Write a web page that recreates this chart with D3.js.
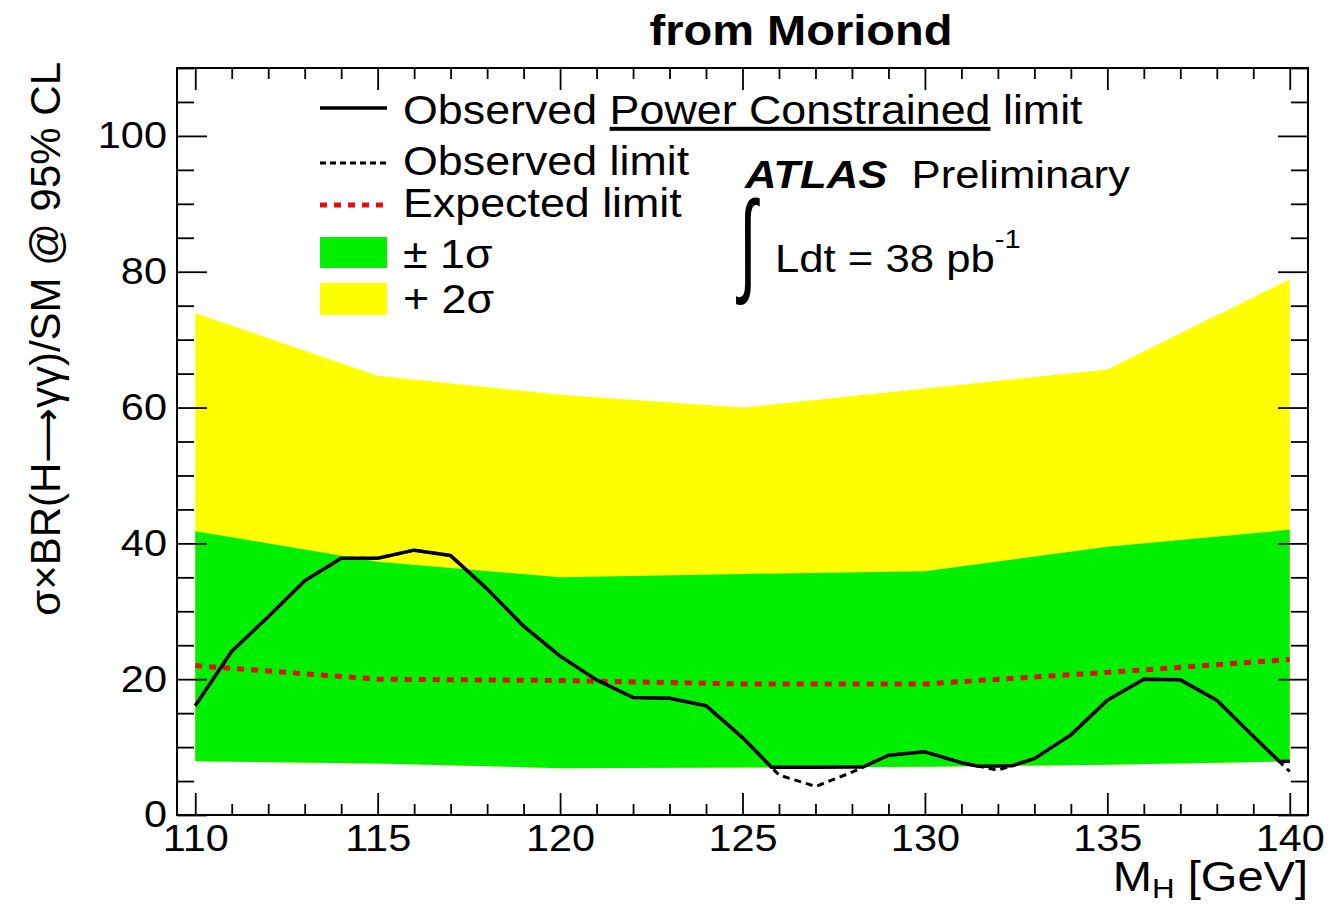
<!DOCTYPE html>
<html>
<head>
<meta charset="utf-8">
<script src="https://cdn.jsdelivr.net/npm/d3@7/dist/d3.min.js"></script>
<style>
body { margin: 0; background: #fff; }
text { font-family: "Liberation Sans", Arial, Helvetica, sans-serif; fill: #000; }
</style>
</head>
<body>
<svg width="1340" height="904"></svg>
<script>
// mass points of the observed scan (GeV)
var masses = [110, 111, 112, 113, 114, 115, 116, 117, 118, 119, 120, 121, 122, 123, 124, 125,
    126, 127, 128, 129, 130, 131, 132, 133, 134, 135, 136, 137, 138, 139, 140];
// observed limit (dashed), the PCL one is clipped at the -1 sigma edge
var observed = [16.1, 24.1, 29.2, 34.5, 37.8, 37.8, 39.0, 38.2, 33.3, 27.8, 23.4, 19.9, 17.3, 17.2, 16.1, 11.4,
    5.9, 4.2, 6.3, 8.8, 9.3, 7.7, 6.6, 8.3, 11.8, 16.9, 20.0, 19.9, 16.9, 11.6, 6.4];

// expected limit and bands are given every 5 GeV
var bandMass = [110, 115, 120, 125, 130, 135, 140];
var expected = [22.0, 20.0, 19.8, 19.3, 19.3, 21.0, 22.9];
var minus1 = [7.9, 7.6, 6.9, 7.0, 7.1, 7.4, 7.9];
var plus1 = [41.8, 37.3, 35.0, 35.5, 35.9, 39.5, 42.0];
var plus2 = [73.9, 64.7, 61.9, 60.0, 62.8, 65.6, 78.9];

var xMajor = [110, 115, 120, 125, 130, 135, 140];
var yMajor = [0, 20, 40, 60, 80, 100];

var SX = 1.12; // text in the original is a bit wide

var svg = d3.select('svg');
var pLeft = 177, pRight = 1308, pTop = 68, pBottom = 815;

var x = d3.scaleLinear().domain([109.5, 140.5]).range([pLeft, pRight]);
var y = d3.scaleLinear().domain([0, 110]).range([pBottom, pTop]);

var bands = bandMass.map(function(m, i) {
    return {m: m, exp: expected[i], lo: minus1[i], hi: plus1[i], hi2: plus2[i]};
});
var obs = masses.map(function(m, i) { return {m: m, v: observed[i]}; });

// -1 sigma edge as a function of mass
var loEdge = d3.scaleLinear().domain(bandMass).range(minus1);

// power constrained limit: observed clipped from below at the -1 sigma edge
var pcl = [];
obs.forEach(function(d, i) {
    var d0 = d.v - loEdge(d.m);
    pcl.push({m: d.m, v: Math.max(d.v, loEdge(d.m))});
    if (i < obs.length - 1) {
        var n = obs[i + 1];
        var d1 = n.v - loEdge(n.m);
        if (d0 * d1 < 0) {
            var t = d0 / (d0 - d1);
            pcl.push({m: d.m + t * (n.m - d.m), v: d.v + t * (n.v - d.v)});
        }
    }
});

// bands
svg.append('path')
    .datum(bands)
    .attr('fill', '#ffff00')
    .attr('d', d3.area().x(function(d) { return x(d.m); })
        .y0(function(d) { return y(d.lo); })
        .y1(function(d) { return y(d.hi2); }));

svg.append('path')
    .datum(bands)
    .attr('fill', '#00f000')
    .attr('d', d3.area().x(function(d) { return x(d.m); })
        .y0(function(d) { return y(d.lo); })
        .y1(function(d) { return y(d.hi); }));

// expected
svg.append('path')
    .datum(bands)
    .attr('fill', 'none')
    .attr('stroke', '#e01010')
    .attr('stroke-width', 5)
    .attr('stroke-dasharray', '7,7')
    .attr('d', d3.line().x(function(d) { return x(d.m); }).y(function(d) { return y(d.exp); }));

// observed
svg.append('path')
    .datum(obs)
    .attr('fill', 'none')
    .attr('stroke', '#000')
    .attr('stroke-width', 3)
    .attr('stroke-dasharray', '7,5')
    .attr('d', d3.line().x(function(d) { return x(d.m); }).y(function(d) { return y(d.v); }));

// observed PCL
svg.append('path')
    .datum(pcl)
    .attr('fill', 'none')
    .attr('stroke', '#000')
    .attr('stroke-width', 3.5)
    .attr('stroke-linejoin', 'round')
    .attr('d', d3.line().x(function(d) { return x(d.m); }).y(function(d) { return y(d.v); }));

/**************************************************************************/
// frame and axes, ticks pointing inwards like ROOT
var xMinor = x.ticks(31).filter(function(v) { return xMajor.indexOf(v) < 0 && v >= 110 && v <= 140; });
var yMinor = y.ticks(22).filter(function(v) { return yMajor.indexOf(v) < 0; });

function noDomain(g) { g.select('.domain').remove(); }

svg.append('g').attr('transform', 'translate(0,' + pBottom + ')')
    .call(d3.axisBottom(x).tickValues(xMajor).tickSize(-22).tickPadding(10).tickFormat(d3.format('d')))
    .call(noDomain);
svg.append('g').attr('transform', 'translate(0,' + pBottom + ')')
    .call(d3.axisBottom(x).tickValues(xMinor).tickSize(-11).tickFormat(''))
    .call(noDomain);
svg.append('g').attr('transform', 'translate(0,' + pTop + ')')
    .call(d3.axisTop(x).tickValues(xMajor).tickSize(-22).tickFormat(''))
    .call(noDomain);
svg.append('g').attr('transform', 'translate(0,' + pTop + ')')
    .call(d3.axisTop(x).tickValues(xMinor).tickSize(-11).tickFormat(''))
    .call(noDomain);

svg.append('g').attr('transform', 'translate(' + pLeft + ',0)')
    .call(d3.axisLeft(y).tickValues(yMajor).tickSize(-30).tickPadding(9).tickFormat(d3.format('d')))
    .call(noDomain);
svg.append('g').attr('transform', 'translate(' + pLeft + ',0)')
    .call(d3.axisLeft(y).tickValues(yMinor).tickSize(-17).tickFormat(''))
    .call(noDomain);
svg.append('g').attr('transform', 'translate(' + pRight + ',0)')
    .call(d3.axisRight(y).tickValues(yMajor).tickSize(-30).tickFormat(''))
    .call(noDomain);
svg.append('g').attr('transform', 'translate(' + pRight + ',0)')
    .call(d3.axisRight(y).tickValues(yMinor).tickSize(-17).tickFormat(''))
    .call(noDomain);

svg.selectAll('.tick line').attr('stroke', '#000').attr('stroke-width', 1.8);
svg.selectAll('.tick text')
    .attr('font-family', '"Liberation Sans", Arial, sans-serif')
    .attr('font-size', 37)
    .attr('fill', '#000')
    .attr('transform', 'scale(' + SX + ',1)');

svg.append('rect')
    .attr('x', pLeft).attr('y', pTop)
    .attr('width', pRight - pLeft).attr('height', pBottom - pTop)
    .attr('fill', 'none').attr('stroke', '#000').attr('stroke-width', 2);

/**************************************************************************/
// texts
function place(px, py) { return 'translate(' + px + ',' + py + ')scale(' + SX + ',1)'; }

svg.append('text')
    .attr('transform', place(801, 45))
    .attr('text-anchor', 'middle')
    .attr('font-size', 42).attr('font-weight', 'bold')
    .text('from Moriond');

var xt = svg.append('text')
    .attr('transform', place(pRight, 891))
    .attr('text-anchor', 'end')
    .attr('font-size', 42);
xt.append('tspan').text('M');
xt.append('tspan').attr('font-size', 28).attr('dy', 7).text('H');
xt.append('tspan').attr('dy', -7).text(' [GeV]');

var yt = svg.append('text')
    .attr('transform', 'translate(60,62)rotate(-90)')
    .attr('text-anchor', 'end')
    .attr('font-size', 42);
yt.append('tspan').text('σ×BR(H');
yt.append('tspan').attr('font-family', '"DejaVu Sans", sans-serif').attr('font-size', 38).text('⟶');
yt.append('tspan').text('γγ)/SM @ 95% CL');

// ATLAS label
var atlas = svg.append('text').attr('transform', place(745, 188)).attr('font-size', 39);
atlas.append('tspan').attr('font-weight', 'bold').attr('font-style', 'italic').text('ATLAS');
atlas.append('tspan').text('\u00a0 Preliminary');

svg.append('text')
    .attr('transform', 'translate(739,281)scale(0.8,1.42)')
    .attr('font-size', 80)
    .attr('font-family', '"DejaVu Sans", sans-serif')
    .text('∫');
var lumi = svg.append('text').attr('transform', place(775, 272)).attr('font-size', 39);
lumi.append('tspan').text('Ldt = 38 pb');
lumi.append('tspan').attr('font-size', 26).attr('dy', -24).text('-1');

// legend
var legX = 320, legW = 67, legT = 403;
svg.append('line').attr('x1', legX).attr('x2', legX + legW).attr('y1', 108).attr('y2', 108)
    .attr('stroke', '#000').attr('stroke-width', 3.5);
svg.append('line').attr('x1', legX).attr('x2', legX + legW).attr('y1', 163).attr('y2', 163)
    .attr('stroke', '#000').attr('stroke-width', 2.8).attr('stroke-dasharray', '6,4');
svg.append('line').attr('x1', legX).attr('x2', legX + legW).attr('y1', 205).attr('y2', 205)
    .attr('stroke', '#e01010').attr('stroke-width', 5).attr('stroke-dasharray', '7,7');
svg.append('rect').attr('x', legX).attr('y', 237).attr('width', legW).attr('height', 31).attr('fill', '#00f000');
svg.append('rect').attr('x', legX).attr('y', 283).attr('width', legW).attr('height', 32).attr('fill', '#ffff00');

var l1 = svg.append('text').attr('transform', place(legT, 124)).attr('font-size', 40);
l1.append('tspan').text('Observed ');
l1.append('tspan').style('text-decoration', 'underline').text('Power Constrained');
l1.append('tspan').text(' limit');
svg.append('text').attr('transform', place(legT, 175)).attr('font-size', 40).text('Observed limit');
svg.append('text').attr('transform', place(legT, 217)).attr('font-size', 40).text('Expected limit');
svg.append('text').attr('transform', place(legT, 268)).attr('font-size', 40).text('± 1σ');
svg.append('text').attr('transform', place(legT, 313)).attr('font-size', 40).text('+ 2σ');
</script>
</body>
</html>
